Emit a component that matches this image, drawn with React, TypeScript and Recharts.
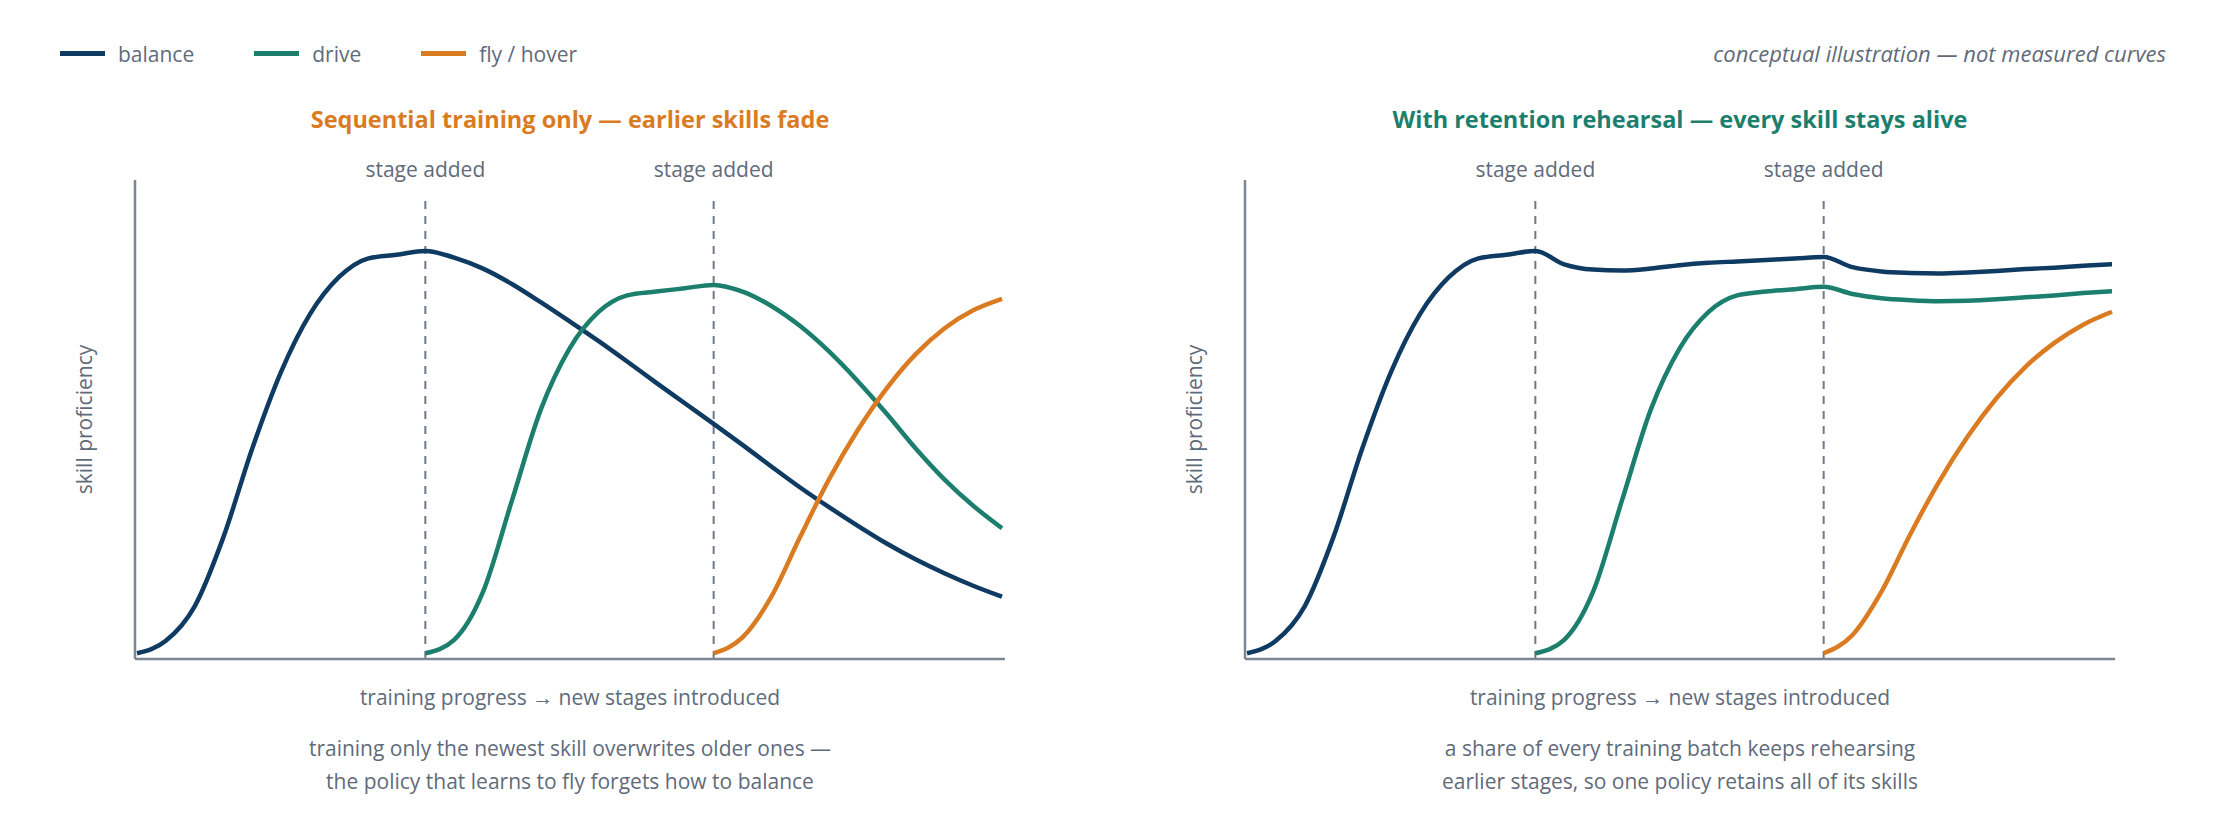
import React from 'react';
import { LineChart, Line, XAxis, YAxis, ReferenceLine } from 'recharts';

// training progress, in stages (each stage = 1.0)
const progress = [
  0, 0.1, 0.2, 0.3, 0.4, 0.5, 0.6, 0.7, 0.8, 0.9,
  1, 1.1, 1.2, 1.3, 1.4, 1.5, 1.6, 1.7, 1.8, 1.9,
  2, 2.1, 2.2, 2.3, 2.4, 2.5, 2.6, 2.7, 2.8, 2.9, 3,
];

const stageStarts = [1, 2];

// sequential training only
const seqBalance = [
  0.012, 0.038, 0.11, 0.255, 0.44, 0.6, 0.72, 0.797, 0.836, 0.844,
  0.852, 0.838, 0.815, 0.783, 0.745, 0.705, 0.664, 0.621, 0.577, 0.534,
  0.491, 0.447, 0.402, 0.358, 0.317, 0.278, 0.241, 0.208, 0.179, 0.153, 0.13,
];
const seqDrive = [
  null, null, null, null, null, null, null, null, null, null,
  0.012, 0.04, 0.14, 0.33, 0.52, 0.648, 0.724, 0.759, 0.767, 0.774,
  0.781, 0.767, 0.737, 0.695, 0.642, 0.58, 0.512, 0.44, 0.375, 0.32, 0.273,
];
const seqFly = [
  null, null, null, null, null, null, null, null, null, null,
  null, null, null, null, null, null, null, null, null, null,
  0.012, 0.045, 0.13, 0.255, 0.375, 0.478, 0.565, 0.636, 0.69, 0.728, 0.752,
];

// with retention rehearsal
const rehBalance = [
  0.012, 0.038, 0.11, 0.255, 0.44, 0.6, 0.72, 0.797, 0.836, 0.844,
  0.852, 0.824, 0.813, 0.811, 0.815, 0.822, 0.827, 0.83, 0.833, 0.836,
  0.839, 0.818, 0.809, 0.806, 0.805, 0.807, 0.81, 0.814, 0.817, 0.821, 0.824,
];
const rehDrive = [
  null, null, null, null, null, null, null, null, null, null,
  0.012, 0.04, 0.14, 0.33, 0.52, 0.648, 0.724, 0.759, 0.767, 0.772,
  0.777, 0.762, 0.753, 0.749, 0.747, 0.748, 0.751, 0.755, 0.759, 0.764, 0.768,
];
const rehFly = [
  null, null, null, null, null, null, null, null, null, null,
  null, null, null, null, null, null, null, null, null, null,
  0.012, 0.05, 0.14, 0.26, 0.37, 0.465, 0.545, 0.61, 0.66, 0.698, 0.725,
];

const skills = [
  { key: 'balance', label: 'balance', color: '#0f3b62' },
  { key: 'drive', label: 'drive', color: '#1c7f6d' },
  { key: 'fly', label: 'fly / hover', color: '#da7b21' },
];

const INK = '#5f6b7b';
const AXIS = '#7c8693';
const FONT = '"Open Sans", sans-serif';

const buildRows = (balance: (number | null)[], drive: (number | null)[], fly: (number | null)[]) =>
  progress.map((x, i) => ({ x, balance: balance[i], drive: drive[i], fly: fly[i] }));

interface PanelProps {
  left: number;
  title: string;
  titleColor: string;
  caption: string[];
  rows: ReturnType<typeof buildRows>;
}

const Panel: React.FC<PanelProps> = ({ left, title, titleColor, caption, rows }) => (
  <div style={{ position: 'absolute', left, top: 0, width: 1110, height: 840 }}>
    <div
      style={{
        position: 'absolute', left: 135, top: 103, width: 870, textAlign: 'center',
        fontSize: 23.5, lineHeight: '32px', fontWeight: 700, color: titleColor,
      }}
    >
      {title}
    </div>
    <LineChart width={1110} height={840} data={rows} margin={{ top: 180, right: 105, bottom: 121, left: 35 }}>
      <XAxis
        dataKey="x"
        type="number"
        domain={[0, 3]}
        ticks={[]}
        tick={false}
        tickLine={false}
        height={60}
        padding={{ left: 2, right: 3 }}
        axisLine={{ stroke: AXIS, strokeWidth: 2.5 }}
        label={{ value: 'training progress → new stages introduced', position: 'insideTop', offset: 31, fill: INK, fontSize: 21 }}
      />
      <YAxis
        type="number"
        domain={[0, 1]}
        tick={false}
        tickLine={false}
        width={100}
        axisLine={{ stroke: AXIS, strokeWidth: 2.5 }}
        label={{ value: 'skill proficiency', angle: -90, position: 'center', fill: INK, fontSize: 21 }}
      />
      {stageStarts.map((s) => (
        <ReferenceLine
          key={s}
          segment={[{ x: s, y: 0 }, { x: s, y: 0.969 }]}
          stroke="#6e7a8a"
          strokeWidth={2}
          strokeDasharray="8 7"
          label={{ value: 'stage added', position: 'top', offset: 18, fill: INK, fontSize: 21 }}
        />
      ))}
      {skills.map((s) => (
        <Line
          key={s.key}
          type="monotone"
          dataKey={s.key}
          stroke={s.color}
          strokeWidth={4.5}
          dot={false}
          activeDot={false}
          isAnimationActive={false}
        />
      ))}
    </LineChart>
    <div
      style={{
        position: 'absolute', left: 135, top: 732, width: 870, textAlign: 'center',
        fontSize: 21, lineHeight: '33px', color: INK,
      }}
    >
      {caption.map((line) => (
        <div key={line}>{line}</div>
      ))}
    </div>
  </div>
);

const App: React.FC = () => (
  <div
    style={{
      position: 'absolute', left: 0, top: 0, width: 2220, height: 840,
      background: '#ffffff', fontFamily: FONT, overflow: 'hidden',
    }}
  >
    <div style={{ position: 'absolute', left: 60, top: 37.5, display: 'flex', gap: 60, fontSize: 21, lineHeight: '32px', color: INK }}>
      {skills.map((s) => (
        <div key={s.key} style={{ display: 'flex', alignItems: 'center' }}>
          <span style={{ display: 'inline-block', width: 45, height: 5, background: s.color, marginRight: 13 }} />
          <span>{s.label}</span>
        </div>
      ))}
    </div>
    <div
      style={{
        position: 'absolute', right: 54, top: 37, fontSize: 22, lineHeight: '32px',
        fontStyle: 'italic', color: INK,
      }}
    >
      conceptual illustration — not measured curves
    </div>
    <Panel
      left={0}
      title="Sequential training only — earlier skills fade"
      titleColor="#da7b21"
      caption={['training only the newest skill overwrites older ones —', 'the policy that learns to fly forgets how to balance']}
      rows={buildRows(seqBalance, seqDrive, seqFly)}
    />
    <Panel
      left={1110}
      title="With retention rehearsal — every skill stays alive"
      titleColor="#1c7f6d"
      caption={['a share of every training batch keeps rehearsing', 'earlier stages, so one policy retains all of its skills']}
      rows={buildRows(rehBalance, rehDrive, rehFly)}
    />
  </div>
);

export default App;
